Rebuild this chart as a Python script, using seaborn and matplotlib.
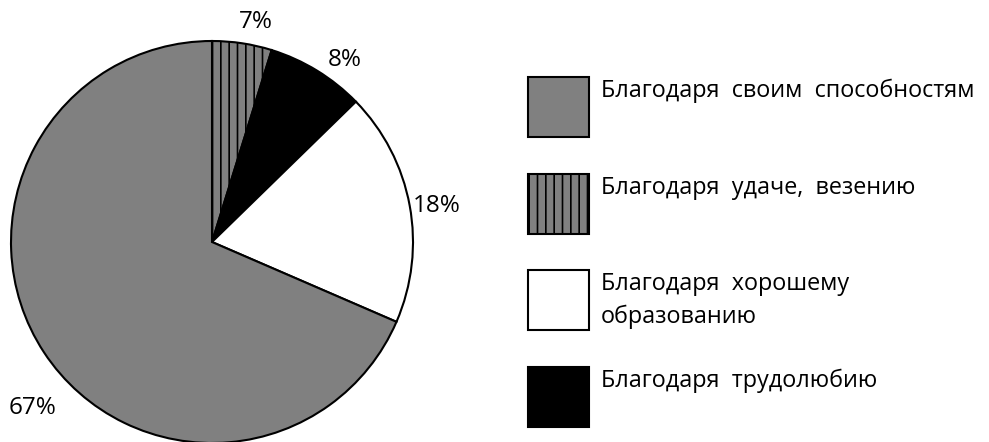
import matplotlib
matplotlib.use("Agg")
import matplotlib.pyplot as plt
import seaborn as sns
from matplotlib.patches import Rectangle

# shares as drawn in the picture (clockwise from 12 o'clock) and the printed labels
categories = ["Благодаря удаче, везению", "Благодаря трудолюбию",
              "Благодаря хорошему\nобразованию", "Благодаря своим способностям"]
shares = [4.8, 7.9, 18.8, 68.5]
pct_labels = ["7%", "8%", "18%", "67%"]
colors = ["#808080", "#000000", "#ffffff", "#808080"]
hatches = ["||", "", "", ""]

# legend order as in the reference
legend_order = [3, 0, 2, 1]
legend_text = ["Благодаря  своим  способностям", "Благодаря  удаче,  везению",
               "Благодаря  хорошему\nобразованию", "Благодаря  трудолюбию"]

sns.set_theme(style="white")
plt.rcParams["font.family"] = ["Open Sans", "DejaVu Sans"]
plt.rcParams["hatch.linewidth"] = 1.2

W, H = 989, 442
fig = plt.figure(figsize=(W / 100, H / 100), dpi=100)
ax = fig.add_axes([0, 0, 1, 1])

def Y(y):
    return H - y

wedges, _ = ax.pie(shares, colors=colors, startangle=90, counterclock=False,
                   center=(212, Y(242)), radius=201, frame=True,
                   wedgeprops=dict(edgecolor="black", linewidth=1.5))
for w, h in zip(wedges, hatches):
    w.set_hatch(h)

# percentage labels
label_pos = [(256, 22), (345, 60), (437, 206), (33, 408)]
for (x, y), t in zip(label_pos, pct_labels):
    ax.text(x, Y(y), t, fontsize=17.5, ha="center", va="center", color="black")

# legend boxes
box_tops = [77, 174, 270, 367]
for top, i, txt in zip(box_tops, legend_order, legend_text):
    ax.add_patch(Rectangle((528, Y(top + 60)), 61, 60, facecolor=colors[i],
                           edgecolor="black", linewidth=1.5, hatch=hatches[i]))
    ax.text(601, Y(top + 2), txt, fontsize=16.8, ha="left", va="top",
            linespacing=1.45, color="black")

ax.set_xlim(0, W)
ax.set_ylim(0, H)
ax.set_aspect("equal")
ax.axis("off")

fig.savefig("out.png", dpi=100)
